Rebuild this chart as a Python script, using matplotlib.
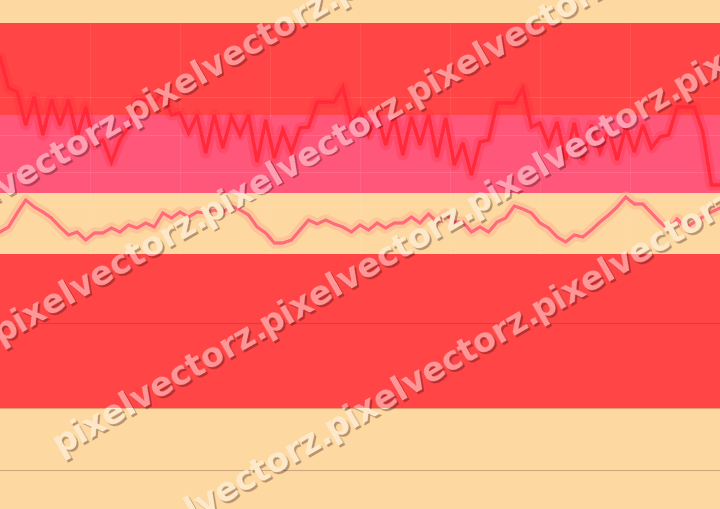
import numpy as np
import matplotlib
matplotlib.use("Agg")
import matplotlib.pyplot as plt
from matplotlib.transforms import Bbox

# ---------------- data (y axis inverted) -------------
idx = list(range(85))

upper_series = [57, 88, 92, 125, 97, 135, 100, 125, 100, 137,
                107, 145, 140, 162, 140, 127, 100, 100, 102, 92,
                115, 113, 133, 115, 153, 115, 148, 117, 135, 115,
                162, 120, 158, 130, 152, 128, 127, 102, 102, 102,
                87, 123, 110, 135, 113, 145, 115, 155, 117, 145,
                115, 157, 118, 165, 143, 175, 142, 140, 103, 103,
                103, 88, 127, 123, 145, 122, 160, 123, 160, 125,
                152, 130, 160, 127, 152, 125, 148, 137, 135, 107,
                107, 107, 132, 185, 185]

lower_series = [232, 227, 213, 200, 207, 212, 218, 227, 235, 232,
                240, 233, 233, 228, 232, 225, 228, 223, 227, 213,
                218, 212, 217, 212, 213, 210, 212, 206, 210, 215,
                227, 233, 243, 243, 240, 230, 220, 224, 220, 224,
                227, 232, 225, 230, 223, 228, 223, 223, 217, 223,
                214, 222, 214, 222, 222, 232, 227, 232, 222, 218,
                206, 209, 213, 223, 228, 237, 242, 235, 237, 230,
                222, 215, 207, 197, 204, 204, 213, 222, 230, 219,
                228, 222, 217, 212, 208]

# horizontal regions: (top, bottom, colour) in the inverted value scale
region_lo = [0, 22.5, 115, 192.5, 253.5, 408]
region_hi = [22.5, 115, 192.5, 253.5, 408, 509]
region_col = ["#FDD8A0", "#FF4545", "#FF577A", "#FDD8A0", "#FF4545", "#FDD8A0"]

grid_y = [97, 135, 172, 207]
grid_x = [10.5, 21, 31.5, 42, 52.5, 63, 73.5]
rule_y = [323, 408, 470]

WATERMARK = "pixelvectorz."

# ---------------- figure ----------------
W, H = 720, 509
fig = plt.figure(figsize=(W / 100, H / 100), dpi=100)
fig.patch.set_facecolor("#FDD8A0")
ax = fig.add_axes([0, 0, 1, 1])
ax.set_facecolor("#FDD8A0")
ax.set_xlim(0, 84)
ax.set_ylim(H, 0)
ax.axis("off")

for lo, hi, c in zip(region_lo, region_hi, region_col):
    ax.axhspan(lo, hi, color=c, lw=0, zorder=1)

for gy in grid_y:
    ax.axhline(gy, color="#FFFFFF", alpha=0.10, lw=0.8, zorder=2)
for gx in grid_x:
    ax.plot([gx, gx], [22.5, 253.5], color="#FFFFFF", alpha=0.08, lw=0.8, zorder=2)
ax.axhline(rule_y[0], color="#C83A3A", alpha=0.6, lw=0.8, zorder=2)
ax.axhline(rule_y[1], color="#C86A50", alpha=0.5, lw=0.8, zorder=2)
ax.axhline(rule_y[2], color="#C9A37C", alpha=0.9, lw=0.8, zorder=2)

# lines with glow
ax.plot(idx, upper_series, color="#FF2A3A", lw=8, alpha=0.25,
        solid_joinstyle="round", solid_capstyle="round", zorder=3)
ax.plot(idx, lower_series, color="#FFB08E", lw=8, alpha=0.45,
        solid_joinstyle="round", solid_capstyle="round", zorder=3)
for zz in (4, 13):
    ax.plot(idx, upper_series, color="#FF2A3A", lw=2.2,
            solid_joinstyle="miter", zorder=zz)
    ax.plot(idx, lower_series, color="#FF6A7C", lw=2.0,
            solid_joinstyle="miter", zorder=zz)

# watermark tiles (diagonal rows)
ang = 30.0
slope = np.tan(np.radians(ang))
period_x = 207
row_c = [200, 344, 490, 632]        # where each row meets the left edge
row_start = [-75, 0, 60, 125]       # x of the first tile's start
fs = 24

def wm_text(px, py, **kw):
    return fig.text(px / W, 1 - py / H, WATERMARK, fontsize=fs,
                    fontweight="bold", rotation=ang, rotation_mode="anchor",
                    ha="left", va="baseline", family="DejaVu Sans", **kw)

for c, s in zip(row_c, row_start):
    for k in range(0, 6):
        px = s + k * period_x
        py = c - slope * px
        if px > W + 10 or py < -40:
            continue
        # shadow
        wm_text(px + 1.8, py + 1.8, color=(0.15, 0, 0, 0.32), zorder=11)
        # restore background under the glyph body
        for lo, hi, col in zip(region_lo, region_hi, region_col):
            t = wm_text(px, py, color=col, zorder=12)
            t.set_clip_on(True)
            t.set_clip_box(Bbox.from_extents(0, H - hi, W, H - lo))
        # translucent light glyph
        wm_text(px, py, color=(1, 1, 1, 0.45), zorder=14)

fig.savefig("out.png", dpi=100, facecolor=fig.get_facecolor())
